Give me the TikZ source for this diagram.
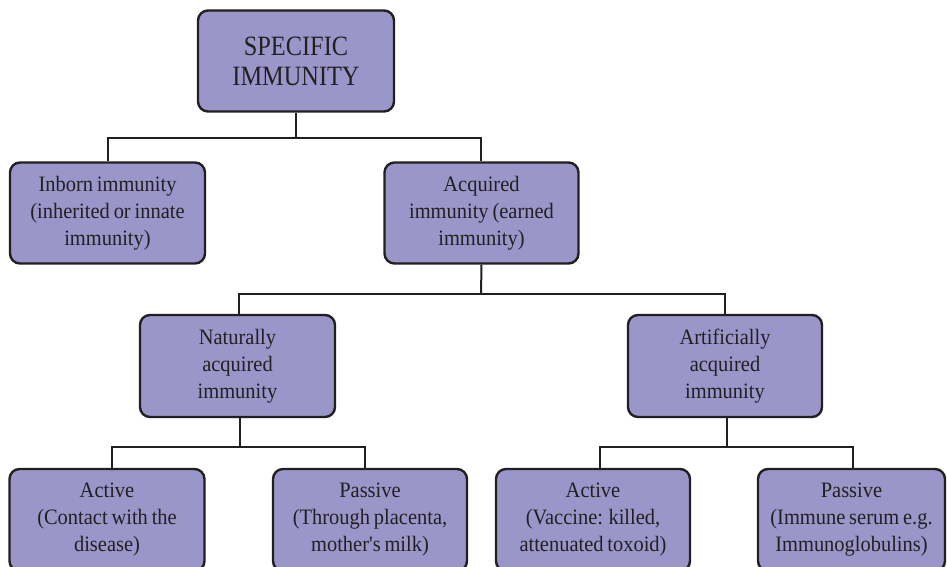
\documentclass[tikz,border=0pt]{standalone}
\usepackage{fontspec}
\setmainfont{Liberation Serif}[FakeStretch=0.93,WordSpace=0.75]
\newfontfamily\topfont{Liberation Serif}[FakeStretch=0.87]
\newfontfamily\quotefont{Liberation Serif}[FakeStretch=0.93]
\definecolor{boxfill}{HTML}{9B96CA}
\definecolor{ink}{HTML}{231F20}
\tikzset{
  box/.style={draw=ink, fill=boxfill, line width=2.4pt, rounded corners=10pt,
    align=center, text=ink, inner sep=0pt,
    font=\fontsize{22}{27}\selectfont},
  topbox/.style={box, font=\topfont\fontsize{28}{30}\selectfont},
  link/.style={draw=ink, line width=2pt}
}
\begin{document}
\begin{tikzpicture}[x=1pt,y=-1pt]
\useasboundingbox (0,0) rectangle (947,567);
\begin{scope}
\clip (0,0) rectangle (947,567);
\node[topbox, minimum width=196pt, minimum height=101pt] (top) at (296,61) {SPECIFIC\\IMMUNITY};
\node[box, minimum width=195pt, minimum height=101pt] (inborn) at (107.5,213) {Inborn immunity\\(inherited or innate\\immunity)};
\node[box, minimum width=194pt, minimum height=101pt] (acq) at (481.5,213) {Acquired\\immunity (earned\\immunity)};
\node[box, minimum width=195pt, minimum height=102pt] (nat) at (237.5,366) {Naturally\\acquired\\immunity};
\node[box, minimum width=194pt, minimum height=102pt] (art) at (725,366) {Artificially\\acquired\\immunity};
\node[box, minimum width=195pt, minimum height=102pt] (b1) at (107,520) {Active\\(Contact with the\\disease)};
\node[box, minimum width=194pt, minimum height=102pt] (b2) at (370,520) {Passive\\(Through placenta,\\mother{\quotefont '}s milk)};
\node[box, minimum width=194pt, minimum height=102pt] (b3) at (593,520) {Active\\(Vaccine: killed,\\attenuated toxoid)};
\node[box, minimum width=187pt, minimum height=102pt] (b4) at (851.5,520) {Passive\\(Immune serum e.g.\\Immunoglobulins)};
\end{scope}
% connectors
\coordinate (j1) at (296,138);
\draw[link] (top.south) -- (j1);
\draw[link] ([xshift=0.5pt]inborn.north) |- (j1) -| ([xshift=-0.5pt]acq.north);
\coordinate (j2) at (481,294);
\draw[link] (acq.south) -- (j2);
\draw[link] ([xshift=1.5pt]nat.north) |- (j2) -| (art.north);
\coordinate (j3) at (239.5,447);
\draw[link] ([xshift=2pt]nat.south) -- (j3);
\draw[link] ([xshift=5pt]b1.north) |- (j3) -| ([xshift=-5pt]b2.north);
\coordinate (j4) at (727,447);
\draw[link] ([xshift=2pt]art.south) -- (j4);
\draw[link] ([xshift=7pt]b3.north) |- (j4) -| ([xshift=1.5pt]b4.north);
\end{tikzpicture}
\end{document}
